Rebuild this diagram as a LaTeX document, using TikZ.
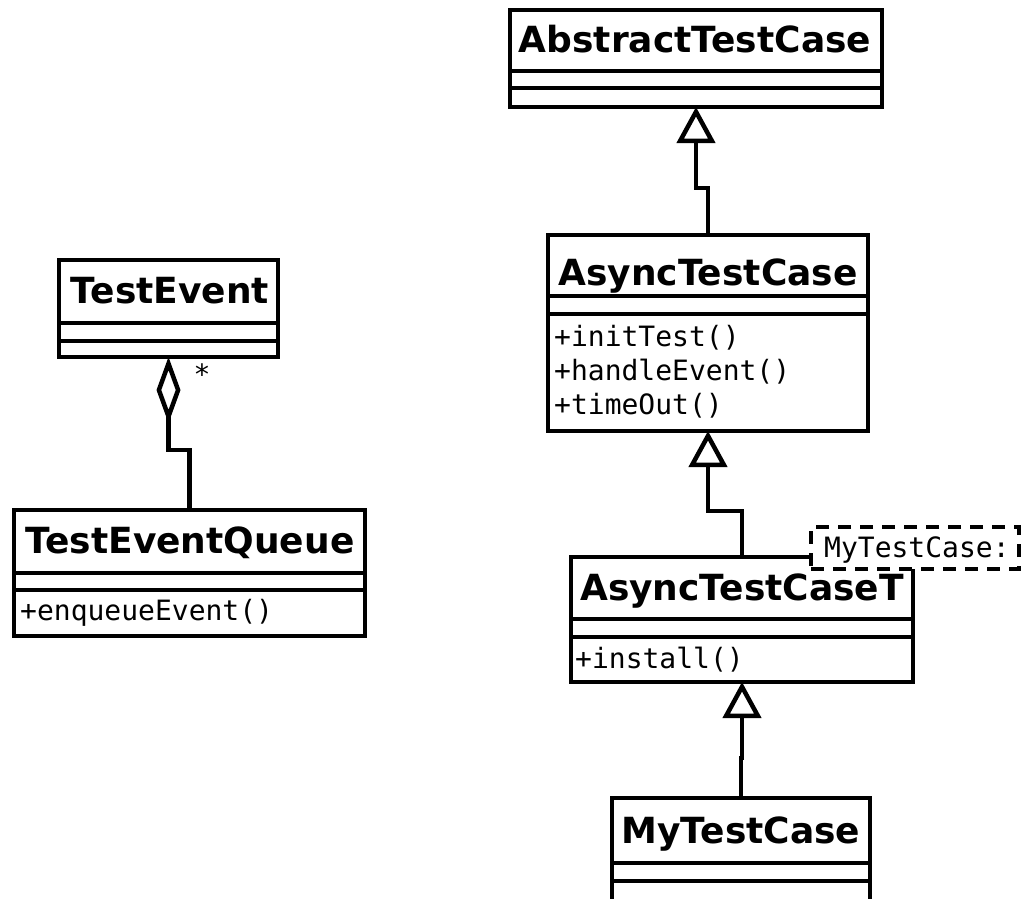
\documentclass[tikz,border=0pt]{standalone}
\usepackage{fontspec}
\newfontfamily\dvs{DejaVu Sans}
\newfontfamily\dvm{DejaVu Sans Mono}
\usetikzlibrary{arrows.meta}
\tikzset{
  umlbox/.style={draw, line width=4.5pt, inner sep=0pt, outer sep=0pt, anchor=north west, fill=white},
  divider/.style={line width=4.5pt},
  ctitle/.style={inner sep=0pt, anchor=base, font=\dvs\bfseries\fontsize{36}{40}\selectfont},
  cmethod/.style={inner sep=0pt, anchor=base west, font=\dvm\fontsize{28}{32}\selectfont},
  gen/.style={line width=4.5pt, -{Triangle[fill=white, length=36pt, width=38pt]}},
  agg/.style={line width=4.5pt, -{Diamond[fill=white, length=66pt, width=24pt]}},
  notebox/.style={draw, line width=4pt, dash pattern=on 13pt off 9pt, fill=white, inner sep=0pt, outer sep=0pt, anchor=north west},
}
\begin{document}
\begin{tikzpicture}[x=1pt, y=-1pt]
\useasboundingbox[fill=white] (0,0) rectangle (1022,898);

% AbstractTestCase
\node[umlbox, minimum width=372pt, minimum height=97pt] (atc) at (510,10) {};
\draw[divider] (atc.west |- 0,71) -- (atc.east |- 0,71);
\draw[divider] (atc.west |- 0,88) -- (atc.east |- 0,88);
\node[ctitle] (atct) at (695,52) {AbstractTestCase};

% AsyncTestCase
\node[umlbox, minimum width=320pt, minimum height=196pt] (act) at (548,235) {};
\draw[divider] (act.west |- 0,296) -- (act.east |- 0,296);
\draw[divider] (act.west |- 0,314) -- (act.east |- 0,314);
\node[ctitle] (actt1) at (708,285) {AsyncTestCase};
\node[cmethod] (actm1) at (554,346) {+initTest()};
\node[cmethod] (actm2) at (554,380) {+handleEvent()};
\node[cmethod] (actm3) at (554,414) {+timeOut()};

% AsyncTestCaseT
\node[umlbox, minimum width=342pt, minimum height=125pt] (actt) at (571,557) {};
\draw[divider] (actt.west |- 0,619) -- (actt.east |- 0,619);
\draw[divider] (actt.west |- 0,637) -- (actt.east |- 0,637);
\node[ctitle] (acttt) at (742,600) {AsyncTestCaseT};
\node[cmethod] (acttm1) at (575,668) {+install()};

% MyTestCase
\node[umlbox, minimum width=258pt, minimum height=107pt] (mtc) at (612,798) {};
\draw[divider] (mtc.west |- 0,863) -- (mtc.east |- 0,863);
\draw[divider] (mtc.west |- 0,881) -- (mtc.east |- 0,881);
\node[ctitle] (mtct) at (741,843) {MyTestCase};

% TestEvent
\node[umlbox, minimum width=219pt, minimum height=97pt] (te) at (59,260) {};
\draw[divider] (te.west |- 0,323) -- (te.east |- 0,323);
\draw[divider] (te.west |- 0,341) -- (te.east |- 0,341);
\node[ctitle] (tet) at (170,303) {TestEvent};

% TestEventQueue
\node[umlbox, minimum width=351pt, minimum height=126pt] (teq) at (14,510) {};
\draw[divider] (teq.west |- 0,573) -- (teq.east |- 0,573);
\draw[divider] (teq.west |- 0,590) -- (teq.east |- 0,590);
\node[ctitle] (teqt) at (190,553) {TestEventQueue};
\node[cmethod] (teqm1) at (20,620) {+enqueueEvent()};

% connectors
\draw[gen] (act.north) -- ++(0,-47) -| (atc.south);
\draw[gen] (actt.north) -- ++(0,-46) -| (act.south);
\draw[gen] (mtc.north) -- ++(0,-40) -| (actt.south);
\draw[agg] (teq.north) -- ++(0,-60) -| (te.south);
\node[inner sep=0pt, anchor=base, font=\dvm\fontsize{28}{32}\selectfont] (mult) at (202,384) {*};

% template parameter note
\node[notebox, minimum width=208pt, minimum height=42pt] (tpl) at (811,527) {};
\node[inner sep=0pt, anchor=base west, font=\dvm\fontsize{28}{32}\selectfont] (tplt) at (824,557) {MyTestCase:};
\end{tikzpicture}
\end{document}
